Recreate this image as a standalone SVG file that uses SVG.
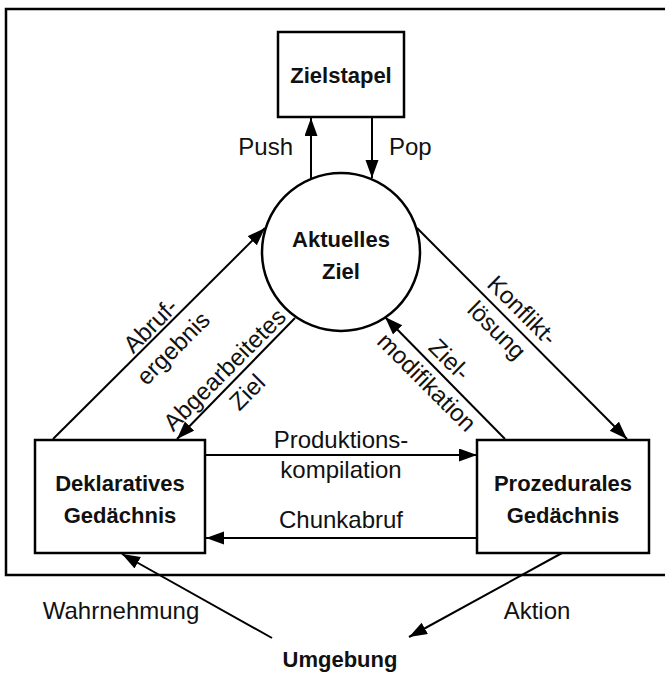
<svg xmlns="http://www.w3.org/2000/svg" width="665" height="673" viewBox="0 0 665 673">
<defs>
<marker id="ah" markerUnits="userSpaceOnUse" markerWidth="20" markerHeight="14" refX="18" refY="6.5" orient="auto">
<path d="M0,0 L18,6.5 L0,13 z" fill="#000"/>
</marker>
<style>
.box{fill:#fff;stroke:#000;stroke-width:2.5}
.ln{fill:none;stroke:#000;stroke-width:2;marker-end:url(#ah)}
.t{font-family:"Liberation Sans",Arial,sans-serif;font-size:24px;fill:#111}
.b{font-family:"Liberation Sans",Arial,sans-serif;font-size:22px;font-weight:bold;fill:#111}
</style>
</defs>
<rect x="6" y="9" width="670" height="566" fill="#fff" stroke="#000" stroke-width="2.5"/>
<g id="connectors">
<line class="ln" x1="311" y1="179" x2="311" y2="118"/>
<line class="ln" x1="372" y1="117" x2="372" y2="178"/>
<line class="ln" x1="53" y1="439" x2="265" y2="228"/>
<line class="ln" x1="295" y1="318" x2="177" y2="439"/>
<line class="ln" x1="417" y1="228" x2="627" y2="439"/>
<line class="ln" x1="505" y1="439" x2="385" y2="317"/>
<line class="ln" x1="205" y1="455" x2="477" y2="455"/>
<line class="ln" x1="477" y1="538" x2="206" y2="538"/>
<line class="ln" x1="272" y1="638" x2="122" y2="554"/>
<line class="ln" x1="562" y1="553" x2="409" y2="637"/>
<text class="t" x="293" y="155" text-anchor="end">Push</text>
<text class="t" x="389" y="155">Pop</text>
<g transform="translate(162,337) rotate(-45)">
<text class="t" x="0" y="-8" text-anchor="middle">Abruf-</text>
<text class="t" x="0" y="24" text-anchor="middle">ergebnis</text>
</g>
<g transform="translate(236,381) rotate(-45)">
<text class="t" x="0" y="-8" text-anchor="middle">Abgearbeitetes</text>
<text class="t" x="0" y="24" text-anchor="middle">Ziel</text>
</g>
<g transform="translate(508,319) rotate(45)">
<text class="t" x="4" y="-8" text-anchor="middle">Konflikt-</text>
<text class="t" x="0" y="24" text-anchor="middle">lösung</text>
</g>
<g transform="translate(438,371) rotate(45)">
<text class="t" x="0" y="-8" text-anchor="middle">Ziel-</text>
<text class="t" x="0" y="24" text-anchor="middle">modifikation</text>
</g>
<text class="t" x="341" y="448" text-anchor="middle">Produktions-</text>
<text class="t" x="341" y="478" text-anchor="middle">kompilation</text>
<text class="t" x="341" y="528" text-anchor="middle">Chunkabruf</text>
<text class="t" x="121" y="619" text-anchor="middle">Wahrnehmung</text>
<text class="t" x="537" y="619" text-anchor="middle">Aktion</text>
</g>
<g id="zielstapel">
<rect class="box" x="278" y="32" width="126" height="85"/>
<text class="b" x="341" y="83" text-anchor="middle">Zielstapel</text>
</g>
<g id="aktuelles-ziel">
<circle cx="341" cy="252" r="79" fill="#fff" stroke="#000" stroke-width="2.5"/>
<text class="b" x="341" y="247" text-anchor="middle">Aktuelles</text>
<text class="b" x="341" y="279" text-anchor="middle">Ziel</text>
</g>
<g id="deklaratives">
<rect class="box" x="35" y="440" width="170" height="113"/>
<text class="b" x="120" y="491" text-anchor="middle">Deklaratives</text>
<text class="b" x="120" y="523" text-anchor="middle">Gedächnis</text>
</g>
<g id="prozedurales">
<rect class="box" x="477" y="440" width="172" height="113"/>
<text class="b" x="563" y="491" text-anchor="middle">Prozedurales</text>
<text class="b" x="563" y="523" text-anchor="middle">Gedächnis</text>
</g>
<g id="umgebung">
<text class="b" x="340" y="667" text-anchor="middle">Umgebung</text>
</g>
</svg>
